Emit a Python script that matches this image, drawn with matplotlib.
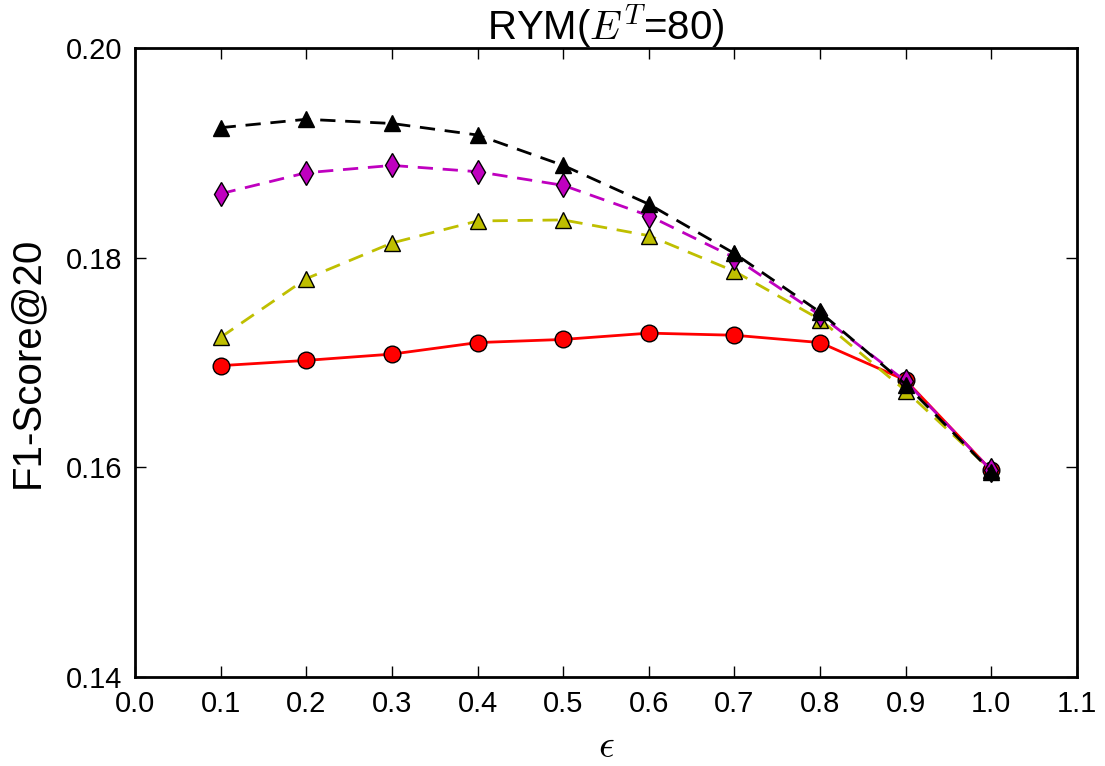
import matplotlib
matplotlib.use('Agg')
import matplotlib.pyplot as plt

plt.rcParams['font.family'] = ['Liberation Sans', 'DejaVu Sans']
plt.rcParams['mathtext.fontset'] = 'cm'

eps = [0.1, 0.2, 0.3, 0.4, 0.5, 0.6, 0.7, 0.8, 0.9, 1.0]
red_f1 = [0.1697, 0.1702, 0.1708, 0.1719, 0.1722, 0.1728, 0.1726, 0.1719, 0.1683, 0.1597]
yel_f1 = [0.1724, 0.1780, 0.1814, 0.1835, 0.1836, 0.1821, 0.1787, 0.1741, 0.1673, 0.1597]
mag_f1 = [0.1861, 0.1881, 0.1888, 0.1882, 0.1869, 0.1840, 0.1800, 0.1745, 0.1682, 0.1597]
blk_f1 = [0.1924, 0.1932, 0.1928, 0.1917, 0.1888, 0.1851, 0.1804, 0.1748, 0.1679, 0.1596]

fig = plt.figure(figsize=(11.05, 7.66), dpi=100)
ax = fig.add_axes([135/1105, 1-677/766, (1077-135)/1105, (677-48)/766])

dash = (0, (5.5, 3.5))
ax.plot(eps, red_f1, 'r-', lw=2, marker='o', ms=12, mec='k', mew=1)
ax.plot(eps, yel_f1, 'y', ls=dash, lw=2, marker='^', ms=12, mec='k', mew=1)
ax.plot(eps, mag_f1, 'm', ls=dash, lw=2, marker='d', ms=12, mec='k', mew=1)
ax.plot(eps, blk_f1, 'k', ls=dash, lw=2, marker='^', ms=12, mfc='k', mec='k', mew=1)

ax.set_xlim(0.0, 1.1)
ax.set_ylim(0.14, 0.20)
ax.set_xticks([i/10 for i in range(12)])
ax.set_yticks([0.14, 0.16, 0.18, 0.20])
ax.tick_params(direction='in', top=True, right=True, length=8, width=1, labelsize=21, pad=9)
for s in ax.spines.values():
    s.set_linewidth(2)

ax.set_title('RYM($E^T$=80)', fontsize=29, pad=6)
ax.set_ylabel('F1-Score@20', fontsize=29, labelpad=14)
ax.set_xlabel(r'$\epsilon$', fontsize=28, labelpad=8)

fig.savefig('out.png', dpi=100)
